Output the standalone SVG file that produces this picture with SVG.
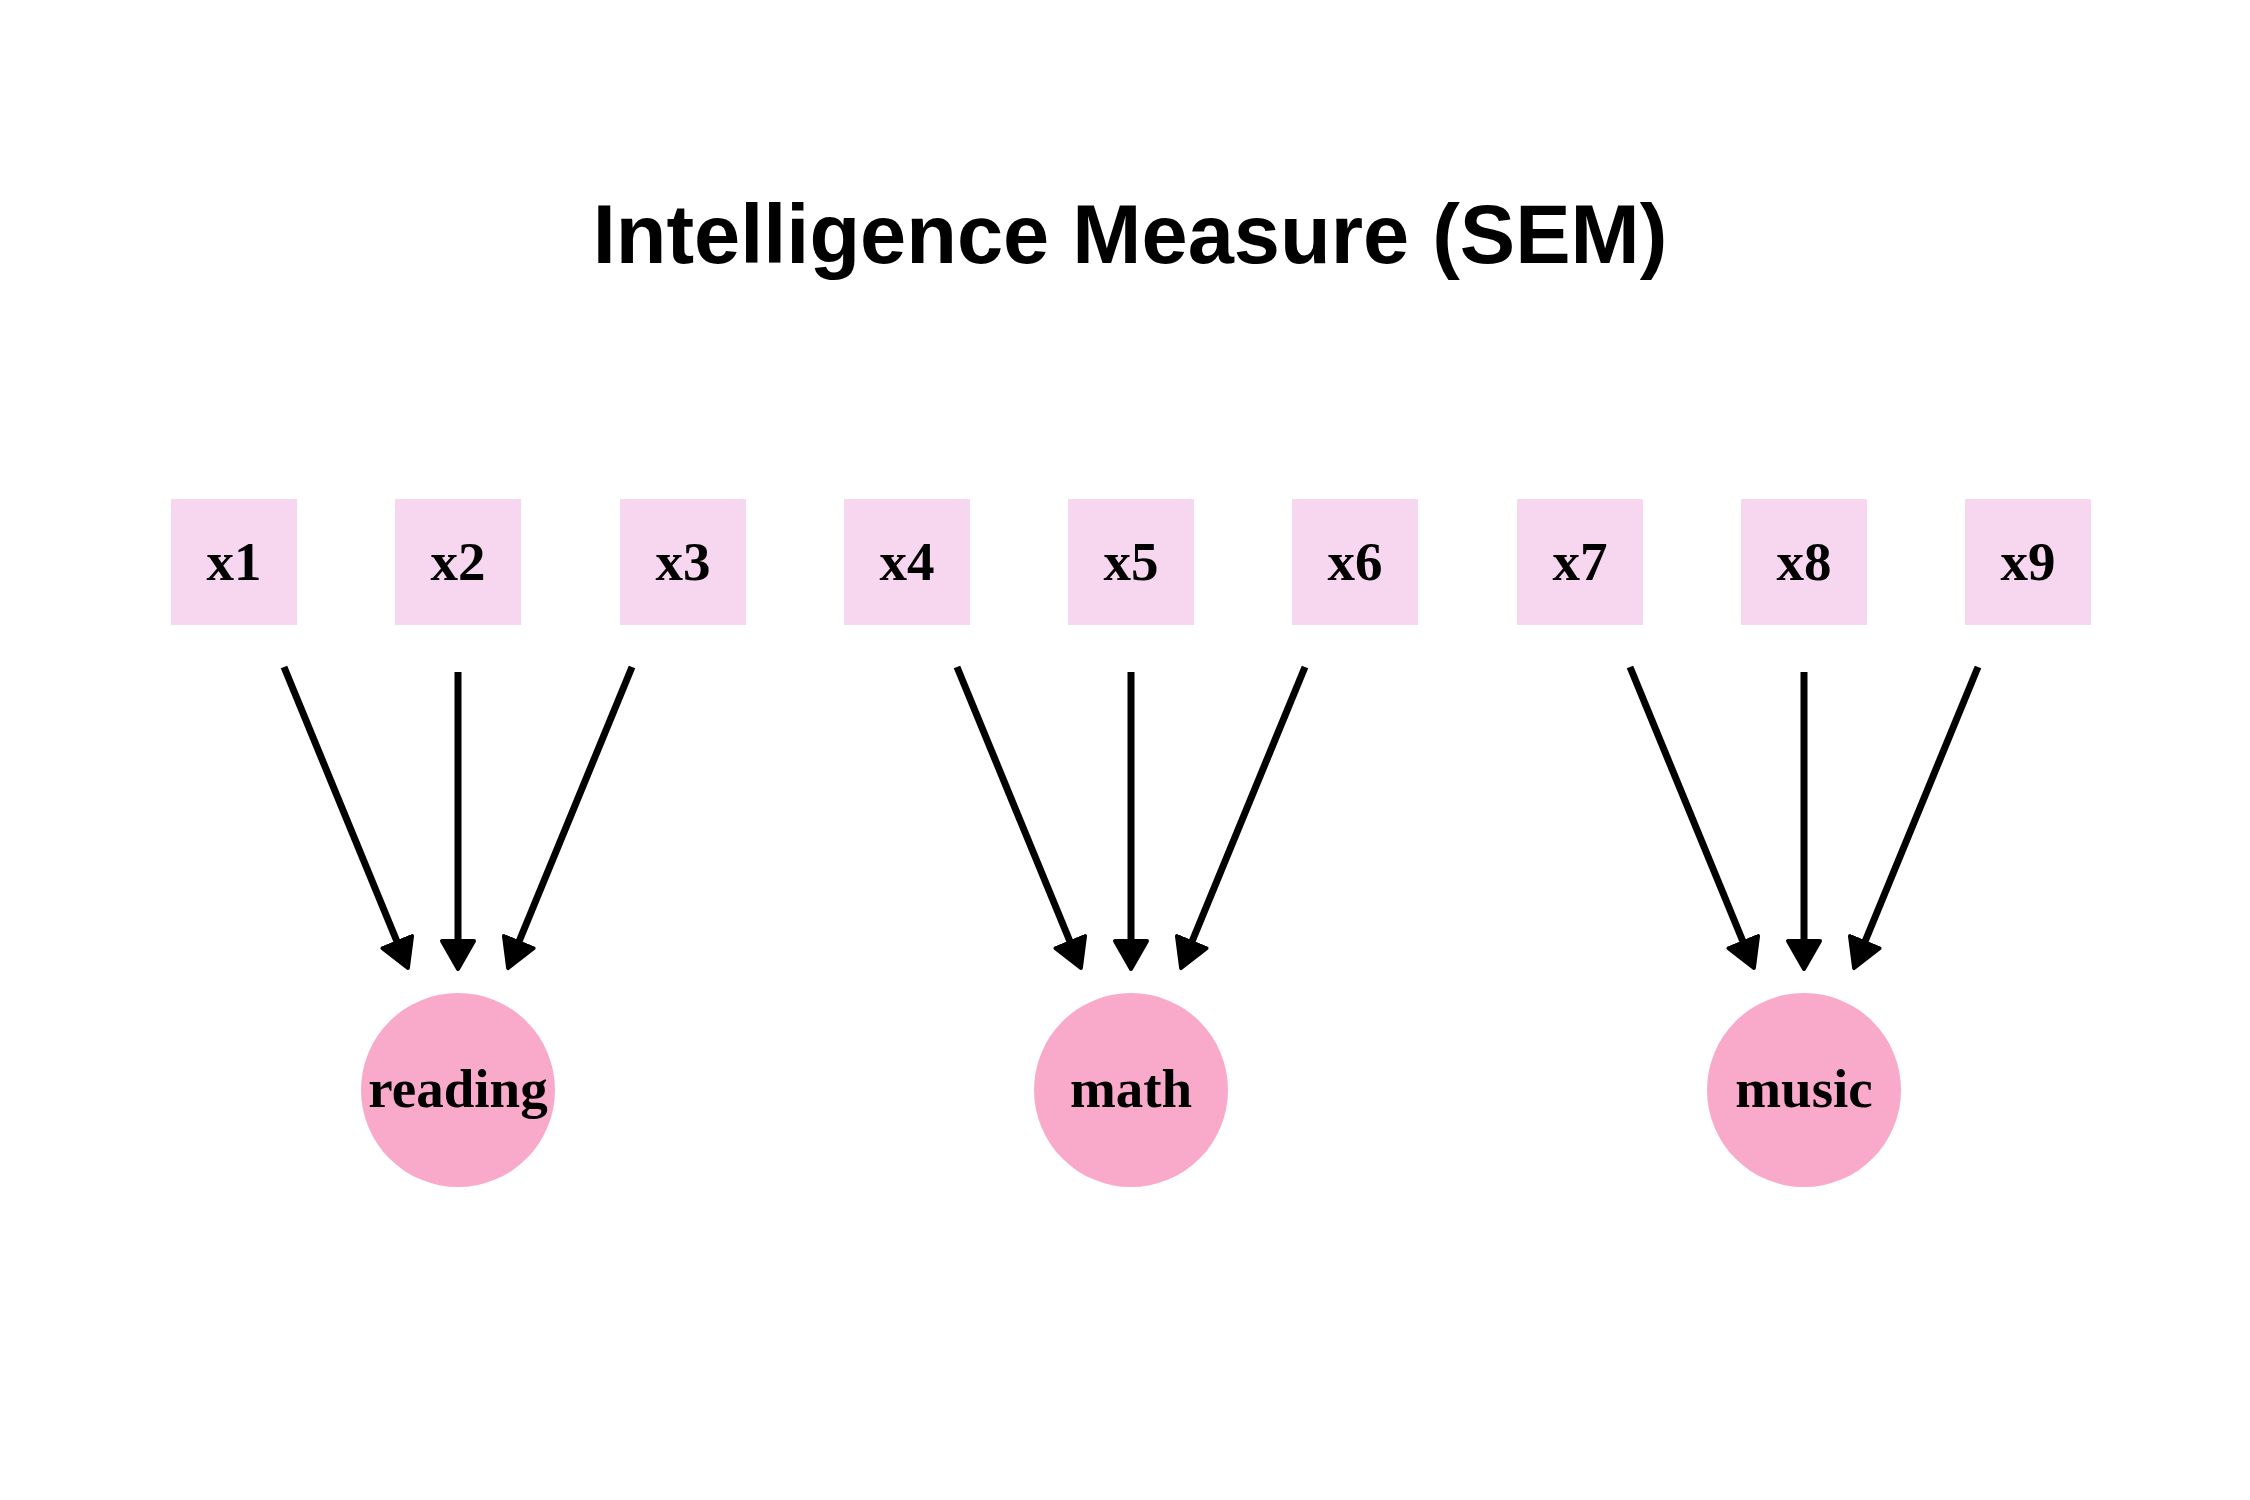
<svg xmlns="http://www.w3.org/2000/svg" width="2250" height="1500" viewBox="0 0 2250 1500">
<style>
.box{fill:#F7D6EF}
.lat{fill:#F9AACB}
.lbl{font-family:"Liberation Serif","Times New Roman",serif;font-weight:bold;font-size:55px;text-anchor:middle;fill:#000}
.title{font-family:"Liberation Sans",Arial,sans-serif;font-weight:bold;font-size:83px;text-anchor:middle;fill:#000}
.edge{stroke:#000;stroke-width:7;fill:none}
</style>
<defs>
<marker id="ah" markerUnits="userSpaceOnUse" markerWidth="34" markerHeight="38" viewBox="0 0 34 38" refX="4" refY="19" orient="auto">
<path d="M2,3 L30,19 L2,35 Z" fill="#000" stroke="#000" stroke-width="4" stroke-linejoin="round"/>
</marker>
</defs>
<rect width="2250" height="1500" fill="#fff"/>
<text class="title" x="1130" y="263">Intelligence Measure (SEM)</text>
<g id="connectors">
<line class="edge" x1="284" y1="667" x2="398" y2="944" marker-end="url(#ah)"/>
<line class="edge" x1="458" y1="672" x2="458" y2="943" marker-end="url(#ah)"/>
<line class="edge" x1="632" y1="667" x2="518" y2="944" marker-end="url(#ah)"/>
<line class="edge" x1="957" y1="667" x2="1071" y2="944" marker-end="url(#ah)"/>
<line class="edge" x1="1131" y1="672" x2="1131" y2="943" marker-end="url(#ah)"/>
<line class="edge" x1="1305" y1="667" x2="1191" y2="944" marker-end="url(#ah)"/>
<line class="edge" x1="1630" y1="667" x2="1744" y2="944" marker-end="url(#ah)"/>
<line class="edge" x1="1804" y1="672" x2="1804" y2="943" marker-end="url(#ah)"/>
<line class="edge" x1="1978" y1="667" x2="1864" y2="944" marker-end="url(#ah)"/>
</g>
<g id="x1"><rect class="box" x="171" y="499" width="126" height="126"/><text class="lbl" x="234" y="580">x1</text></g>
<g id="x2"><rect class="box" x="395" y="499" width="126" height="126"/><text class="lbl" x="458" y="580">x2</text></g>
<g id="x3"><rect class="box" x="620" y="499" width="126" height="126"/><text class="lbl" x="683" y="580">x3</text></g>
<g id="x4"><rect class="box" x="844" y="499" width="126" height="126"/><text class="lbl" x="907" y="580">x4</text></g>
<g id="x5"><rect class="box" x="1068" y="499" width="126" height="126"/><text class="lbl" x="1131" y="580">x5</text></g>
<g id="x6"><rect class="box" x="1292" y="499" width="126" height="126"/><text class="lbl" x="1355" y="580">x6</text></g>
<g id="x7"><rect class="box" x="1517" y="499" width="126" height="126"/><text class="lbl" x="1580" y="580">x7</text></g>
<g id="x8"><rect class="box" x="1741" y="499" width="126" height="126"/><text class="lbl" x="1804" y="580">x8</text></g>
<g id="x9"><rect class="box" x="1965" y="499" width="126" height="126"/><text class="lbl" x="2028" y="580">x9</text></g>
<g id="reading"><circle class="lat" cx="458" cy="1090" r="97"/><text class="lbl" x="458" y="1107">reading</text></g>
<g id="math"><circle class="lat" cx="1131" cy="1090" r="97"/><text class="lbl" x="1131" y="1107">math</text></g>
<g id="music"><circle class="lat" cx="1804" cy="1090" r="97"/><text class="lbl" x="1804" y="1107">music</text></g>
</svg>
